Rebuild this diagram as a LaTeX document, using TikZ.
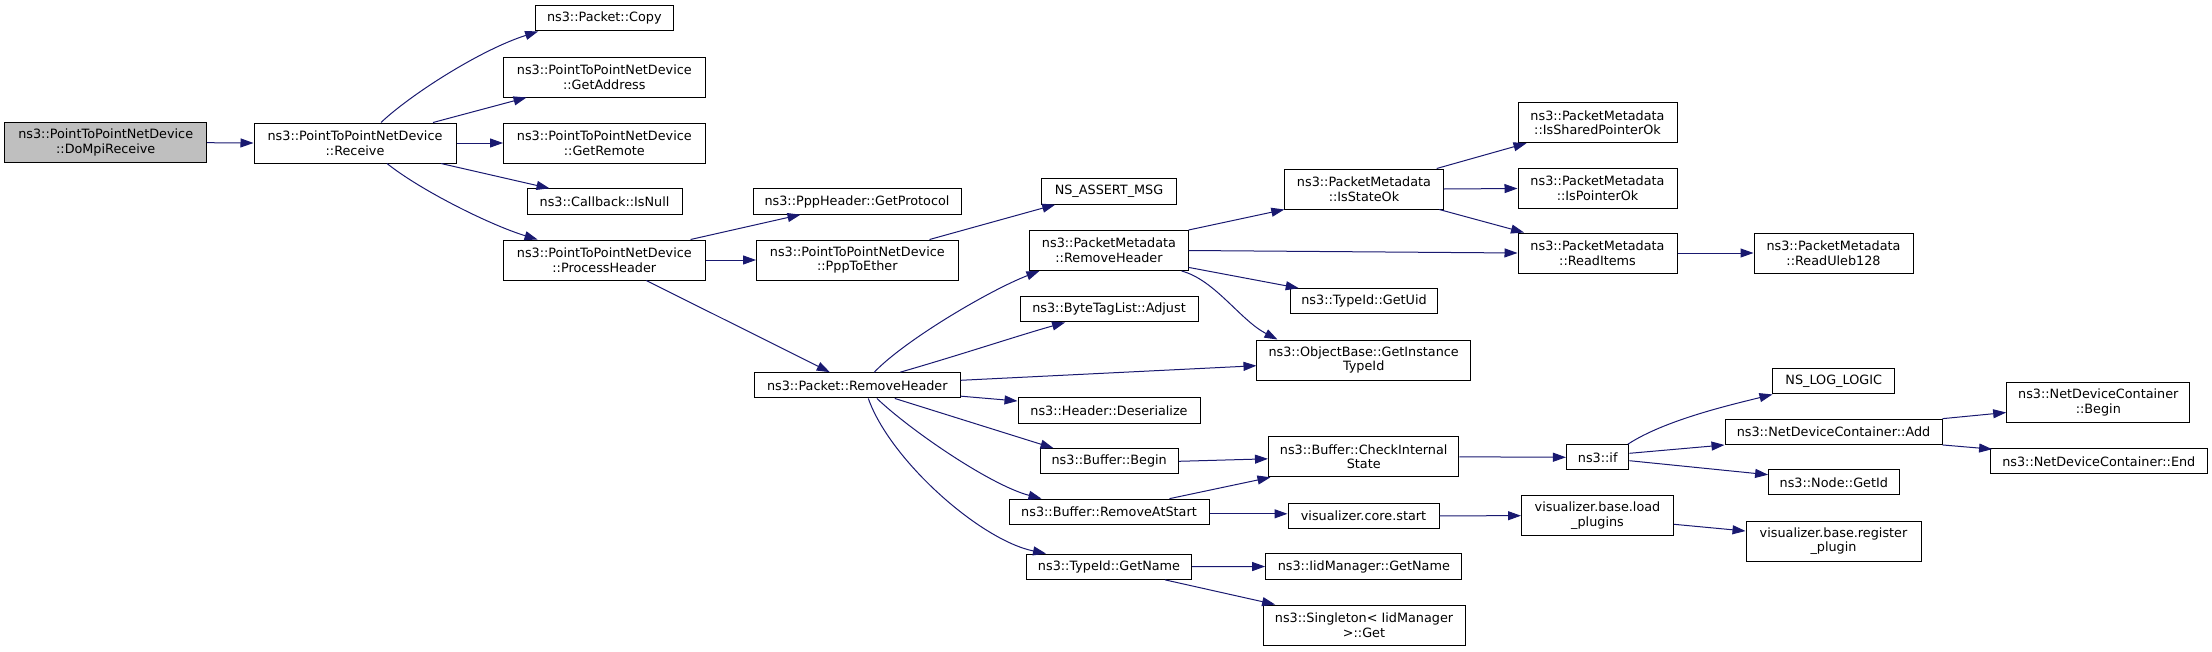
\documentclass[tikz,border=0pt]{standalone}
\usepackage{fontspec}
\setmainfont{DejaVu Sans}
\usetikzlibrary{arrows.meta,calc}
\definecolor{edgeblue}{HTML}{191970}
\definecolor{rootgray}{HTML}{BFBFBF}
\tikzset{
  cg/.style={draw=black, line width=1pt, fill=white, inner sep=0pt, align=center,
    font=\fontsize{12.8pt}{14.7pt}\selectfont, minimum height=25.3pt},
  cg2/.style={cg, minimum height=40pt},
  cedge/.style={draw=edgeblue, line width=1pt, -{Triangle[length=13pt,width=9pt]}}
}
\begin{document}
\begin{tikzpicture}[x=1pt,y=-1pt]
\useasboundingbox (0,0) rectangle (2212,651);
% column 0
\node[cg2, fill=rootgray, minimum width=202pt] (dompi) at (105.7,142.7) {ns3::PointToPointNetDevice\\::DoMpiReceive};
% column 1
\node[cg2, minimum width=202pt] (rcv) at (355,143) {ns3::PointToPointNetDevice\\::Receive};
% column 2
\node[cg, minimum width=137.4pt] (copy) at (604.3,18.3) {ns3::Packet::Copy};
\node[cg2, minimum width=201.5pt] (addr) at (604.3,77) {ns3::PointToPointNetDevice\\::GetAddress};
\node[cg2, minimum width=201.5pt] (remote) at (604.3,143) {ns3::PointToPointNetDevice\\::GetRemote};
\node[cg, minimum width=155pt] (isnull) at (604.5,201.5) {ns3::Callback::IsNull};
\node[cg2, minimum width=201.5pt] (prochdr) at (604.3,260) {ns3::PointToPointNetDevice\\::ProcessHeader};
% column 3
\node[cg, minimum width=208pt] (getproto) at (857,201.5) {ns3::PppHeader::GetProtocol};
\node[cg2, minimum width=201.5pt] (ppp2eth) at (857.3,260) {ns3::PointToPointNetDevice\\::PppToEther};
\node[cg, minimum width=205.4pt] (prh) at (857.3,385.3) {ns3::Packet::RemoveHeader};
% column 4
\node[cg, minimum width=134.5pt] (assert) at (1109,191.5) {NS\_ASSERT\_MSG};
\node[cg2, minimum width=158.2pt] (pmrh) at (1109,250.5) {ns3::PacketMetadata\\::RemoveHeader};
\node[cg, minimum width=178pt] (bytetag) at (1109,309.3) {ns3::ByteTagList::Adjust};
\node[cg, minimum width=182pt] (deser) at (1109,410.5) {ns3::Header::Deserialize};
\node[cg, minimum width=138.4pt] (bbegin) at (1109.2,461.3) {ns3::Buffer::Begin};
\node[cg, minimum width=200pt] (rmstart) at (1109,511.8) {ns3::Buffer::RemoveAtStart};
\node[cg, minimum width=165pt] (getname) at (1109,566.7) {ns3::TypeId::GetName};
% column 5
\node[cg2, minimum width=158.4pt] (isstate) at (1364,189) {ns3::PacketMetadata\\::IsStateOk};
\node[cg, minimum width=147.5pt] (getuid) at (1364,301.3) {ns3::TypeId::GetUid};
\node[cg2, minimum width=213.5pt] (instance) at (1363.7,360) {ns3::ObjectBase::GetInstance\\TypeId};
\node[cg2, minimum width=190.5pt] (checkint) at (1363.7,456.8) {ns3::Buffer::CheckInternal\\State};
\node[cg, minimum width=151pt] (vcore) at (1363.5,515.8) {visualizer.core.start};
\node[cg, minimum width=196.3pt] (iidget) at (1363.8,566.5) {ns3::IidManager::GetName};
\node[cg2, minimum width=202pt] (singleton) at (1364,625) {ns3::Singleton< IidManager\\>::Get};
% column 6
\node[cg2, minimum width=159pt] (isshared) at (1597.5,122.7) {ns3::PacketMetadata\\::IsSharedPointerOk};
\node[cg2, minimum width=159pt] (isptr) at (1597.5,188.5) {ns3::PacketMetadata\\::IsPointerOk};
\node[cg2, minimum width=159pt] (readitems) at (1597.5,253) {ns3::PacketMetadata\\::ReadItems};
\node[cg, minimum width=62.5pt] (nsif) at (1597.7,457.3) {ns3::if};
\node[cg2, minimum width=152pt] (loadpl) at (1597.5,515.7) {visualizer.base.load\\\_plugins};
% column 7
\node[cg2, minimum width=159pt] (uleb) at (1833.5,253) {ns3::PacketMetadata\\::ReadUleb128};
\node[cg, minimum width=121.5pt] (loglogic) at (1833.7,381.3) {NS\_LOG\_LOGIC};
\node[cg, minimum width=217pt] (ndcadd) at (1833.5,431.8) {ns3::NetDeviceContainer::Add};
\node[cg, minimum width=130.4pt] (getid) at (1833.8,482.3) {ns3::Node::GetId};
\node[cg2, minimum width=175pt] (regpl) at (1833.5,541) {visualizer.base.register\\\_plugin};
% column 8
\node[cg2, minimum width=183.3pt] (ndcbegin) at (2098.3,402.5) {ns3::NetDeviceContainer\\::Begin};
\node[cg, minimum width=216.4pt] (ndcend) at (2098.8,461.3) {ns3::NetDeviceContainer::End};

% edges
\draw[cedge] (dompi.east) -- (rcv.west);
\draw[cedge] ($(rcv.north)+(26,0)$) .. controls (410,95) and (480,50) .. ($(copy.south west)+(3,0)$);
\draw[cedge] ($(rcv.north)+(78,0)$) -- ($(addr.south west)+(23.5,0)$);
\draw[cedge] (rcv.east) -- (remote.west);
\draw[cedge] ($(rcv.south)+(86,0)$) -- ($(isnull.north west)+(23,0)$);
\draw[cedge] ($(rcv.south)+(32,0)$) .. controls (420,190) and (490,225) .. ($(prochdr.north west)+(34.5,0)$);
\draw[cedge] ($(prochdr.north east)+(-15,0)$) -- ($(getproto.south west)+(48,0)$);
\draw[cedge] (prochdr.east) -- (ppp2eth.west);
\draw[cedge] ($(prochdr.south)+(42,0)$) -- ($(prh.north)+(-27.5,0)$);
\draw[cedge] ($(ppp2eth.north east)+(-29,0)$) -- ($(assert.south west)+(14,0)$);
\draw[cedge] ($(prh.north)+(17,0)$) .. controls (905,340) and (990,290) .. ($(pmrh.south west)+(10,0)$);
\draw[cedge] ($(prh.north)+(43,0)$) .. controls (960,355) and (1020,335) .. ($(bytetag.south west)+(45.6,0)$);
\draw[cedge] ($(prh.east)+(0,-5)$) -- ($(instance.west)+(0,5.7)$);
\draw[cedge] ($(prh.south east)+(0,-2.3)$) -- ($(deser.west)+(0,-9.5)$);
\draw[cedge] ($(prh.south)+(37.5,0)$) -- ($(bbegin.north west)+(14,0)$);
\draw[cedge] ($(prh.south)+(19.6,0)$) .. controls (910,430) and (990,485) .. ($(rmstart.north west)+(33,0)$);
\draw[cedge] ($(prh.south)+(11,0)$) .. controls (890,460) and (980,540) .. ($(getname.north west)+(20,0)$);
\draw[cedge] (pmrh.north east) -- (isstate.south west);
\draw[cedge] (pmrh.east) -- (readitems.west);
\draw[cedge] ($(pmrh.south east)+(0,-3.6)$) -- ($(getuid.north west)+(9,0)$);
\draw[cedge] ($(pmrh.south east)+(-7,0)$) .. controls (1215,280) and (1240,320) .. ($(instance.north west)+(21,0)$);
\draw[cedge] ($(isstate.north east)+(-7,0)$) -- ($(isshared.south west)+(9,0)$);
\draw[cedge] (isstate.east) -- (isptr.west);
\draw[cedge] ($(isstate.south east)+(-4.5,0)$) -- ($(readitems.north west)+(6.5,0)$);
\draw[cedge] (readitems.east) -- (uleb.west);
\draw[cedge] (bbegin.east) -- ($(checkint.west)+(0,2)$);
\draw[cedge] ($(rmstart.north east)+(-40,0)$) -- ($(checkint.south west)+(2.5,0)$);
\draw[cedge] ($(rmstart.east)+(0,2)$) -- ($(vcore.west)+(0,-2)$);
\draw[cedge] (checkint.east) -- (nsif.west);
\draw[cedge] (vcore.east) -- (loadpl.west);
\draw[cedge] ($(nsif.north east)+(-1.5,0)$) .. controls (1665,420) and (1730,405) .. (loglogic.south west);
\draw[cedge] ($(nsif.east)+(0,-4)$) -- (ndcadd.south west);
\draw[cedge] ($(nsif.east)+(0,3.4)$) -- ($(getid.west)+(0,-7.6)$);
\draw[cedge] (ndcadd.north east) -- ($(ndcbegin.west)+(0,10)$);
\draw[cedge] (ndcadd.south east) -- ($(ndcend.north west)+(2,1)$);
\draw[cedge] ($(loadpl.east)+(0,8.6)$) -- ($(regpl.west)+(0,-10)$);
\draw[cedge] (getname.east) -- (iidget.west);
\draw[cedge] ($(getname.south east)+(-27,0)$) -- ($(singleton.north west)+(12.6,0)$);
\end{tikzpicture}
\end{document}
